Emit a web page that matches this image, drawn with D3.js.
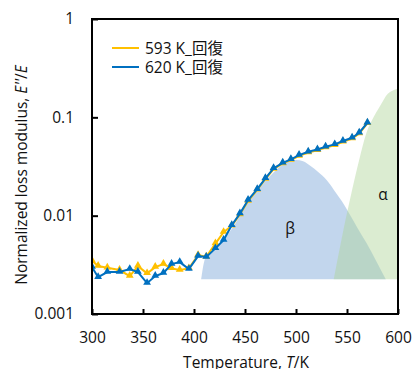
<!DOCTYPE html>
<html>
<head>
<meta charset="utf-8">
<script src="https://cdn.jsdelivr.net/npm/d3@7"></script>
<style>
  html, body { margin: 0; padding: 0; background: #fff; }
  svg { display: block; font-family: "Open Sans", "Noto Sans CJK JP", sans-serif; }
</style>
</head>
<body>
<div id="chart"></div>
<script>
// temperatures (K) shared by both runs
const temps = [300, 306, 315, 327, 337, 345, 354, 362, 370, 378, 386, 395, 404, 412, 421, 429,
  437, 445, 453, 462, 470, 478, 487, 495, 503, 512, 521, 529, 538, 546, 555, 562, 570];

const series593 = [0.00348, 0.00307, 0.00295, 0.00280, 0.00243, 0.00307, 0.00259, 0.00300, 0.00322,
  0.00291, 0.00280, 0.00291, 0.00397, 0.00382, 0.0052, 0.0068, 0.0079, 0.0103, 0.0141, 0.0183,
  0.0236, 0.0298, 0.0340, 0.0368, 0.0405, 0.0438, 0.0463, 0.0493, 0.0520, 0.0563, 0.0608, 0.0684, 0.0870];

const series620 = [0.0030, 0.00237, 0.00267, 0.00267, 0.00286, 0.00267, 0.00206, 0.00243, 0.00261,
  0.00322, 0.00337, 0.00286, 0.00388, 0.0038, 0.00465, 0.00565, 0.0080, 0.0105, 0.0144, 0.0186,
  0.0240, 0.0303, 0.0345, 0.0374, 0.0413, 0.0446, 0.0472, 0.0502, 0.0531, 0.0574, 0.0620, 0.0697, 0.0881];

const seriesNames = ["593 K_回復", "620 K_回復"];

// shaded peaks (beta and alpha relaxations)
const peakBase = 0.00226;
const betaT = [407, 411, 421, 429, 437, 445, 453, 462, 470, 479, 486, 493, 500, 507, 514, 522,
  530, 537, 545, 552, 560, 569, 579, 588];
const betaV = [0.00226, 0.0037, 0.0047, 0.0058, 0.0073, 0.0100, 0.0138, 0.0178, 0.0226, 0.0282,
  0.0325, 0.0356, 0.0368, 0.0358, 0.0322, 0.0276, 0.0230, 0.0184, 0.0140, 0.0106, 0.0076,
  0.0053, 0.0034, 0.00226];
const alphaT = [537, 545, 555, 562, 569, 576, 582, 590, 596, 600];
const alphaV = [0.00226, 0.0060, 0.0182, 0.037, 0.0692, 0.100, 0.128, 0.174, 0.190, 0.195];

const xTicks = [300, 350, 400, 450, 500, 550, 600];
const yTicks = [0.001, 0.01, 0.1, 1];
const yTickLabels = ["0.001", "0.01", "0.1", "1"];

const width = 414, height = 369;
const m = { left: 92, right: 398, top: 19, bottom: 314 };

const svg = d3.select("#chart").append("svg")
  .attr("width", width)
  .attr("height", height);

const x = d3.scaleLinear().domain([300, 600]).range([m.left, m.right]);
const y = d3.scaleLog().domain([0.001, 1]).range([m.bottom, m.top]);

svg.append("clipPath").attr("id", "plot-clip")
  .append("rect")
  .attr("x", m.left).attr("y", m.top)
  .attr("width", m.right - m.left).attr("height", m.bottom - m.top);

const plot = svg.append("g").attr("clip-path", "url(#plot-clip)");

// --- peak areas ---
const area = d3.area()
  .x(d => x(d[0]))
  .y0(y(peakBase))
  .y1(d => y(d[1]))
  .curve(d3.curveMonotoneX);

plot.append("path")
  .attr("d", area(d3.zip(betaT, betaV)))
  .attr("fill", "rgb(143,180,222)")
  .attr("fill-opacity", 0.55);

plot.append("path")
  .attr("d", area(d3.zip(alphaT, alphaV)))
  .attr("fill", "rgb(176,212,152)")
  .attr("fill-opacity", 0.45);

svg.append("text")
  .attr("x", 290).attr("y", 234)
  .attr("text-anchor", "middle")
  .attr("font-size", 15.5)
  .attr("fill", "#111")
  .text("β");

svg.append("text")
  .attr("x", 383).attr("y", 200)
  .attr("text-anchor", "middle")
  .attr("font-size", 15.5)
  .attr("fill", "#111")
  .text("α");

// --- data series ---
const line = d3.line()
  .x(d => x(d[0]))
  .y(d => y(d[1]));

const triangle = d3.symbol().type(d3.symbolTriangle).size(26);

const runs = [
  { name: seriesNames[0], values: series593, color: "#FFC000" },
  { name: seriesNames[1], values: series620, color: "#0070C0" }
];

runs.forEach(run => {
  const pts = d3.zip(temps, run.values);
  plot.append("path")
    .attr("d", line(pts))
    .attr("fill", "none")
    .attr("stroke", run.color)
    .attr("stroke-width", 2);

  plot.selectAll(null)
    .data(pts)
    .enter()
    .append("path")
    .attr("d", triangle)
    .attr("transform", d => `translate(${x(d[0])},${y(d[1]) - 0.5})`)
    .attr("fill", run.color);
});

// --- axes ---
const xAxis = svg.append("g")
  .attr("transform", `translate(0,${m.bottom})`)
  .call(d3.axisBottom(x).tickValues(xTicks).tickSize(-5).tickPadding(18).tickFormat(d3.format("d")));

const yAxis = svg.append("g")
  .attr("transform", `translate(${m.left},0)`)
  .call(d3.axisLeft(y).tickValues(yTicks).tickSize(-6).tickPadding(18)
    .tickFormat((d, i) => yTickLabels[i]));

[xAxis, yAxis].forEach(ax => {
  ax.select(".domain").remove();
  ax.selectAll(".tick line").attr("stroke", "#000").attr("stroke-width", 2);
  ax.selectAll(".tick text")
    .attr("font-size", 15.5)
    .attr("font-family", "'Open Sans', sans-serif")
    .attr("fill", "#111");
});

// frame
svg.append("rect")
  .attr("x", m.left).attr("y", m.top)
  .attr("width", m.right - m.left).attr("height", m.bottom - m.top)
  .attr("fill", "none")
  .attr("stroke", "#000")
  .attr("stroke-width", 2);

// axis titles
const xTitle = svg.append("text")
  .attr("x", 246).attr("y", 368)
  .attr("text-anchor", "middle")
  .attr("font-size", 15.5)
  .attr("fill", "#111");
xTitle.append("tspan").text("Temperature, ");
xTitle.append("tspan").attr("font-style", "italic").text("T");
xTitle.append("tspan").text("/K");

const yTitle = svg.append("text")
  .attr("transform", "translate(27,175) rotate(-90)")
  .attr("text-anchor", "middle")
  .attr("font-size", 15.5)
  .attr("fill", "#111");
yTitle.append("tspan").text("Normalized loss modulus, ");
yTitle.append("tspan").attr("font-style", "italic").text("E''");
yTitle.append("tspan").text("/");
yTitle.append("tspan").attr("font-style", "italic").text("E");

// legend
const legend = svg.append("g").attr("transform", "translate(112,48)");
const items = legend.selectAll("g")
  .data(runs)
  .enter()
  .append("g")
  .attr("transform", (d, i) => `translate(0,${i * 19})`);

items.append("line")
  .attr("x1", 0).attr("x2", 27)
  .attr("stroke", d => d.color)
  .attr("stroke-width", 2);

items.append("text")
  .attr("x", 33).attr("y", 5.5)
  .attr("font-size", 15.5)
  .attr("fill", "#111")
  .text(d => d.name);
</script>
</body>
</html>
